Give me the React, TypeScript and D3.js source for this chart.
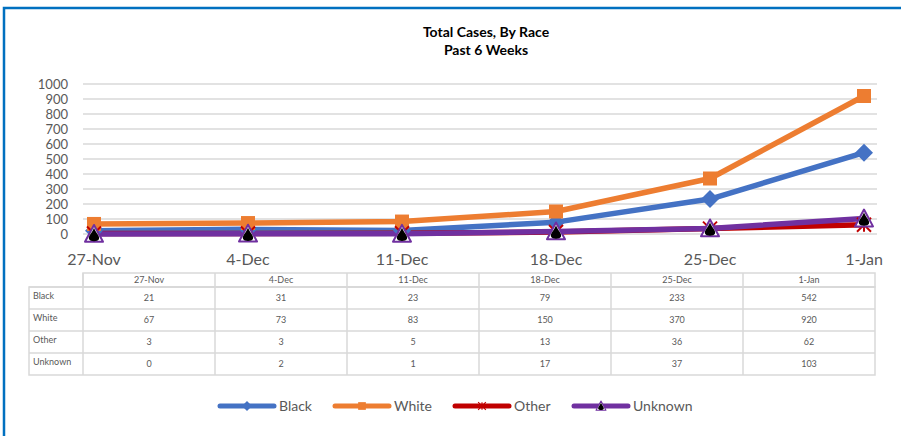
import * as d3 from 'd3';

const categories = ['27-Nov', '4-Dec', '11-Dec', '18-Dec', '25-Dec', '1-Jan'];
const black = [21, 31, 23, 79, 233, 542];
const white = [67, 73, 83, 150, 370, 920];
const other = [3, 3, 5, 13, 36, 62];
const unknown = [0, 2, 1, 17, 37, 103];
const yTicks = [0, 100, 200, 300, 400, 500, 600, 700, 800, 900, 1000];

const series = [
  { name: 'Black', values: black, color: '#4472C4', marker: 'diamond' },
  { name: 'White', values: white, color: '#ED7D31', marker: 'square' },
  { name: 'Other', values: other, color: '#C00000', marker: 'star' },
  { name: 'Unknown', values: unknown, color: '#7030A0', marker: 'triangle' },
];

const FONT = 'Lato, "Open Sans", "Liberation Sans", sans-serif';
const GRAY = '#595959';

function Marker({ type, x, y, color, s = 1 }: { type: string; x: number; y: number; color: string; s?: number }) {
  if (type === 'diamond') {
    const r = 9 * s;
    return <path d={`M${x},${y - r}L${x + r},${y}L${x},${y + r}L${x - r},${y}Z`} fill={color} />;
  }
  if (type === 'square') {
    const r = 7 * s;
    return <rect x={x - r} y={y - r} width={2 * r} height={2 * r} fill={color} />;
  }
  if (type === 'star') {
    const r = 7 * s;
    return (
      <g stroke={color} strokeWidth={2 * s}>
        <line x1={x - r} y1={y - r} x2={x + r} y2={y + r} />
        <line x1={x - r} y1={y + r} x2={x + r} y2={y - r} />
        <line x1={x} y1={y - r} x2={x} y2={y + r} />
      </g>
    );
  }
  const r = 9 * s;
  const h = r * 0.87;
  return (
    <g>
      <path
        d={`M${x},${y - r}L${x + r},${y + h}L${x - r},${y + h}Z`}
        fill="#fff"
        stroke={color}
        strokeWidth={2 * s}
        strokeLinejoin="round"
      />
      <path
        d={`M${x},${y - r + 3 * s}C${x + 2 * s},${y - 1 * s} ${x + 6 * s},${y + 2 * s} ${x + 5 * s},${y + 5 * s}
           C${x + 4 * s},${y + 8 * s} ${x - 4 * s},${y + 8 * s} ${x - 5 * s},${y + 5 * s}
           C${x - 6 * s},${y + 2 * s} ${x - 2 * s},${y - 1 * s} ${x},${y - r + 3 * s}Z`}
        fill="#000"
      />
    </g>
  );
}

export default function App() {
  const width = 901;
  const height = 436;

  const x = d3.scalePoint<string>().domain(categories).range([94, 864]);
  const y = d3.scaleLinear().domain([0, 1000]).range([234, 84]);
  const line = d3
    .line<number>()
    .x((_, i) => x(categories[i])!)
    .y((d) => y(d));

  // data table layout
  const col = d3.scaleBand<string>().domain(categories).range([83, 875]);
  const tableLeft = 29;
  const headerTop = 273;
  const headerH = 14;
  const rowH = 22;

  const legendX = [220, 335, 455, 574];

  return (
    <svg
      width={width}
      height={height}
      style={{ position: 'absolute', left: 0, top: 0, background: '#fff' }}
      fontFamily={FONT}
    >
      <rect width={width} height={height} fill="#fff" />
      <path d={`M4,${height} V8 H${width}`} fill="none" stroke="#0070C0" strokeWidth={2.5} />

      <text x={486} y={37} textAnchor="middle" fontSize={14} fontWeight="bold" fill="#000">
        Total Cases, By Race
      </text>
      <text x={486} y={55} textAnchor="middle" fontSize={14} fontWeight="bold" fill="#000">
        Past 6 Weeks
      </text>

      {yTicks.map((t) => (
        <g key={t}>
          <line x1={83} x2={877} y1={y(t)} y2={y(t)} stroke="#d9d9d9" strokeWidth={1.5} />
          <text x={68} y={y(t)} dy="0.35em" textAnchor="end" fontSize={13} fill={GRAY}>
            {t}
          </text>
        </g>
      ))}

      {categories.map((c) => (
        <text key={c} x={x(c)} y={265} textAnchor="middle" fontSize={16} fill={GRAY}>
          {c}
        </text>
      ))}

      {series.map((s) => (
        <path
          key={s.name}
          d={line(s.values)!}
          fill="none"
          stroke={s.color}
          strokeWidth={5.5}
          strokeLinejoin="round"
        />
      ))}
      {series.map((s) =>
        s.values.map((v, i) => (
          <Marker key={s.name + i} type={s.marker} x={x(categories[i])!} y={y(v)} color={s.color} />
        ))
      )}

      {/* data table */}
      <g stroke="#d9d9d9" strokeWidth={1.5} fill="none">
        <rect x={83} y={headerTop} width={792} height={headerH} />
        <rect x={tableLeft} y={headerTop + headerH} width={875 - tableLeft} height={rowH * 4} />
        {categories.map((c) => (
          <line key={c} x1={col(c)} x2={col(c)} y1={headerTop} y2={headerTop + headerH + rowH * 4} />
        ))}
        {series.map((s, i) => (
          <line
            key={s.name}
            x1={tableLeft}
            x2={875}
            y1={headerTop + headerH + rowH * i}
            y2={headerTop + headerH + rowH * i}
          />
        ))}
      </g>
      {categories.map((c) => (
        <text
          key={c}
          x={col(c)! + col.bandwidth() / 2}
          y={headerTop + headerH / 2}
          dy="0.35em"
          textAnchor="middle"
          fontSize={9}
          fill={GRAY}
        >
          {c}
        </text>
      ))}
      {series.map((s, i) => (
        <g key={s.name}>
          <text
            x={tableLeft + 4}
            y={headerTop + headerH + rowH * i + rowH / 2 - 2}
            dy="0.35em"
            fontSize={9}
            fill={GRAY}
          >
            {s.name}
          </text>
          {s.values.map((v, j) => (
            <text
              key={j}
              x={col(categories[j])! + col.bandwidth() / 2}
              y={headerTop + headerH + rowH * i + rowH / 2}
              dy="0.35em"
              textAnchor="middle"
              fontSize={9}
              fill={GRAY}
            >
              {v}
            </text>
          ))}
        </g>
      ))}

      {/* legend */}
      {series.map((s, i) => (
        <g key={s.name}>
          <line
            x1={legendX[i]}
            x2={legendX[i] + 54}
            y1={406}
            y2={406}
            stroke={s.color}
            strokeWidth={5}
            strokeLinecap="round"
          />
          <Marker type={s.marker} x={legendX[i] + 27} y={406} color={s.color} s={0.55} />
          <text x={legendX[i] + 59} y={406} dy="0.35em" fontSize={14} fill={GRAY}>
            {s.name}
          </text>
        </g>
      ))}
    </svg>
  );
}
